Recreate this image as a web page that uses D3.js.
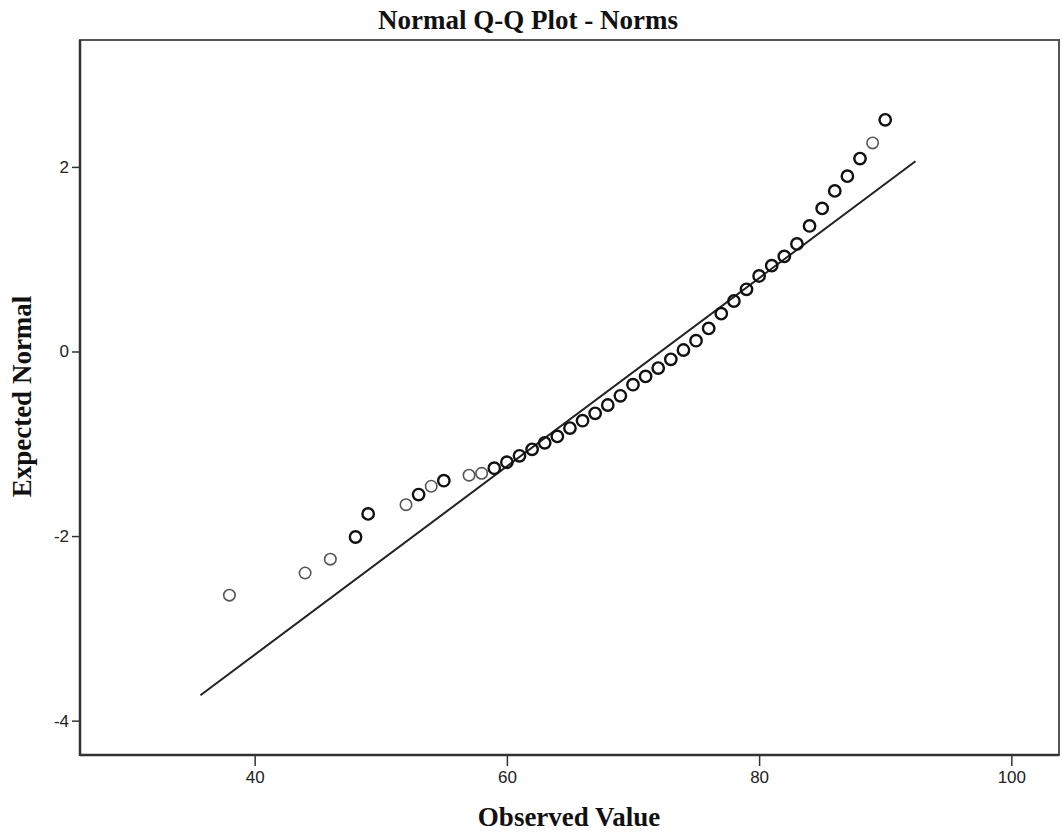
<!DOCTYPE html>
<html>
<head>
<meta charset="utf-8">
<script src="https://cdn.jsdelivr.net/npm/d3@7"></script>
<style>
  html, body { margin: 0; padding: 0; background: #fff; }
  svg { display: block; }
</style>
</head>
<body>
<svg id="chart" width="1062" height="836"></svg>
<script>
// ---- data ----
const title = "Normal Q-Q Plot - Norms";
const xLabel = "Observed Value";
const yLabel = "Expected Normal";
const xTicks = [40, 60, 80, 100];
const yTicks = [2, 0, -2, -4];
const observed = [38, 44, 46, 48, 49, 52, 53, 54, 55, 57, 58,
  59, 60, 61, 62, 63, 64, 65, 66, 67, 68, 69, 70, 71, 72, 73, 74,
  75, 76, 77, 78, 79, 80, 81, 82, 83, 84, 85, 86, 87, 88, 89, 90];
const expected = [-2.64, -2.40, -2.25, -2.01, -1.76, -1.66, -1.55, -1.46, -1.40, -1.34, -1.32,
  -1.265, -1.20, -1.13, -1.06, -0.99, -0.92, -0.83, -0.75, -0.67, -0.58, -0.48, -0.36, -0.27, -0.18, -0.085, 0.016,
  0.117, 0.25, 0.41, 0.547, 0.674, 0.818, 0.93, 1.03, 1.165, 1.36, 1.55, 1.74, 1.90, 2.09, 2.26, 2.51];
const lineMean = 72.2;
const lineSD = 9.8;
const lineXRange = [35.7, 92.4];
const xDomain = [26.15, 103.78];
const yDomain = [-4.372, 3.375];

// ---- style ----
const lightPoints = new Set([38, 44, 46, 52, 54, 57, 58, 89]);
const frame = { left: 80, right: 1059, top: 40, bottom: 755 };

const svg = d3.select("#chart");
const x = d3.scaleLinear().domain(xDomain).range([frame.left, frame.right]);
const y = d3.scaleLinear().domain(yDomain).range([frame.bottom, frame.top]);

// title
svg.append("text")
  .attr("x", 528).attr("y", 29)
  .attr("text-anchor", "middle")
  .attr("font-family", "'Liberation Serif', 'Times New Roman', serif")
  .attr("font-weight", "bold")
  .attr("font-size", 27)
  .attr("fill", "#111")
  .text(title);

// frame
svg.append("rect")
  .attr("x", frame.left).attr("y", frame.top)
  .attr("width", frame.right - frame.left)
  .attr("height", frame.bottom - frame.top)
  .attr("fill", "none")
  .attr("stroke", "#555")
  .attr("stroke-width", 2);
svg.append("line")
  .attr("x1", frame.left).attr("x2", frame.left)
  .attr("y1", frame.top).attr("y2", frame.bottom + 1)
  .attr("stroke", "#333").attr("stroke-width", 2.5);
svg.append("line")
  .attr("x1", frame.left).attr("x2", frame.right)
  .attr("y1", frame.bottom).attr("y2", frame.bottom)
  .attr("stroke", "#333").attr("stroke-width", 2.5);

// axes
const fmt = d => String(d);
const xAxis = d3.axisBottom(x).tickValues(xTicks).tickSize(11).tickPadding(5).tickFormat(fmt);
const gx = svg.append("g").attr("transform", `translate(0,${frame.bottom})`).call(xAxis);
gx.select(".domain").remove();
const yAxis = d3.axisLeft(y).tickValues(yTicks).tickSize(8).tickPadding(3).tickFormat(fmt);
const gy = svg.append("g").attr("transform", `translate(${frame.left},0)`).call(yAxis);
gy.select(".domain").remove();
[gx, gy].forEach(g => {
  g.selectAll("line").attr("stroke", "#333").attr("stroke-width", 1.5);
  g.selectAll("text")
    .attr("font-family", "'Liberation Sans', Arial, sans-serif")
    .attr("font-size", 17)
    .attr("fill", "#222");
});

// axis titles
svg.append("text")
  .attr("x", 569).attr("y", 826)
  .attr("text-anchor", "middle")
  .attr("font-family", "'Liberation Serif', 'Times New Roman', serif")
  .attr("font-weight", "bold")
  .attr("font-size", 27)
  .attr("fill", "#111")
  .text(xLabel);
svg.append("text")
  .attr("transform", `translate(31,${y(0) + 45}) rotate(-90)`)
  .attr("text-anchor", "middle")
  .attr("font-family", "'Liberation Serif', 'Times New Roman', serif")
  .attr("font-weight", "bold")
  .attr("font-size", 27)
  .attr("fill", "#111")
  .text(yLabel);

// reference line
svg.append("line")
  .attr("x1", x(lineXRange[0])).attr("y1", y((lineXRange[0] - lineMean) / lineSD))
  .attr("x2", x(lineXRange[1])).attr("y2", y((lineXRange[1] - lineMean) / lineSD))
  .attr("stroke", "#222").attr("stroke-width", 2);

// points
const pts = observed.map((v, i) => ({ v, e: expected[i] }));
svg.append("g").selectAll("circle")
  .data(pts).join("circle")
  .attr("cx", d => x(d.v))
  .attr("cy", d => y(d.e))
  .attr("r", 5.7)
  .attr("fill", "none")
  .attr("stroke", d => lightPoints.has(d.v) ? "#555" : "#111")
  .attr("stroke-width", d => lightPoints.has(d.v) ? 1.6 : 2.4);
</script>
</body>
</html>
